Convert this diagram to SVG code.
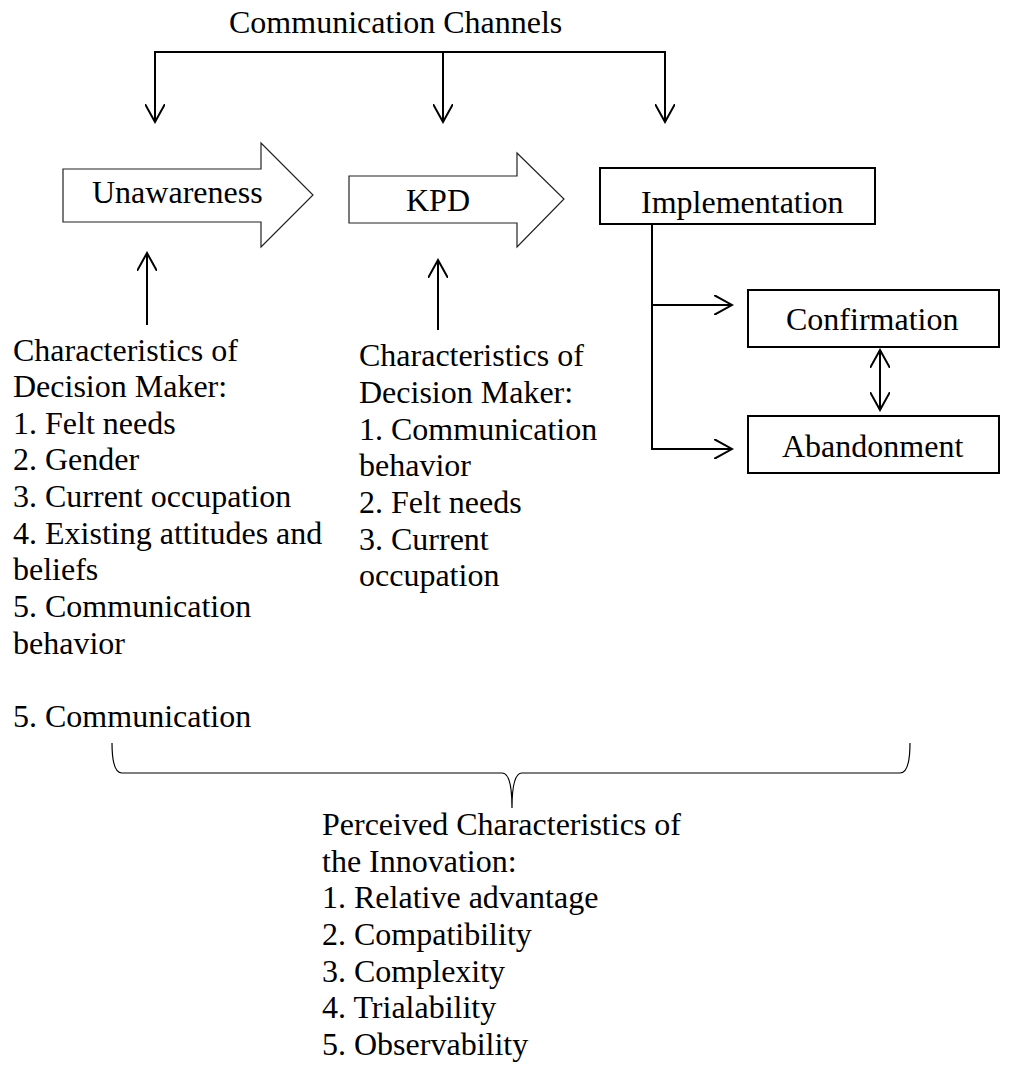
<svg xmlns="http://www.w3.org/2000/svg" width="1017" height="1065" viewBox="0 0 1017 1065">
<style>
text{font-family:"Liberation Serif","Times New Roman",serif;font-size:32px;fill:#000}
.blk{fill:#fff;stroke:#222;stroke-width:1.2}
.box{fill:#fff;stroke:#000;stroke-width:2}
.ln{fill:none;stroke:#000;stroke-width:2}
.brace{fill:none;stroke:#000;stroke-width:1.2}
</style>
<defs>
<marker id="ah" viewBox="0 0 20 20" refX="18" refY="10" markerWidth="20" markerHeight="20" markerUnits="userSpaceOnUse" orient="auto-start-reverse">
<path d="M0,0 L18,10 L0,20" fill="none" stroke="#000" stroke-width="2"/>
</marker>
</defs>
<text id="channels" x="229" y="33">Communication Channels</text>
<g id="unawareness">
<path class="blk" d="M63,169 H261 V143 L313,195 L261,247 V222 H63 Z"/>
<text x="92" y="203">Unawareness</text>
</g>
<g id="kpd">
<path class="blk" d="M349,176 H517 V153 L564,199 L517,247 V223 H349 Z"/>
<text x="406" y="211">KPD</text>
</g>
<g id="implementation">
<rect class="box" x="600" y="168" width="275" height="56"/>
<text x="641" y="213">Implementation</text>
</g>
<g id="confirmation">
<rect class="box" x="748" y="290" width="251" height="57"/>
<text x="786" y="330">Confirmation</text>
</g>
<g id="abandonment">
<rect class="box" x="748" y="416" width="251" height="57"/>
<text x="782" y="457">Abandonment</text>
</g>
<g id="dm1">
<text x="13" y="361">Characteristics of</text>
<text x="13" y="397">Decision Maker:</text>
<text x="13" y="434">1. Felt needs</text>
<text x="13" y="470">2. Gender</text>
<text x="13" y="507">3. Current occupation</text>
<text x="13" y="544">4. Existing attitudes and</text>
<text x="13" y="580">beliefs</text>
<text x="13" y="617">5. Communication</text>
<text x="13" y="654">behavior</text>
<text x="13" y="727">5. Communication</text>
</g>
<g id="dm2">
<text x="359" y="366">Characteristics of</text>
<text x="359" y="403">Decision Maker:</text>
<text x="359" y="440">1. Communication</text>
<text x="359" y="476">behavior</text>
<text x="359" y="513">2. Felt needs</text>
<text x="359" y="550">3. Current</text>
<text x="359" y="586">occupation</text>
</g>
<g id="innovation">
<text x="322" y="835">Perceived Characteristics of</text>
<text x="322" y="872">the Innovation:</text>
<text x="322" y="908">1. Relative advantage</text>
<text x="322" y="945">2. Compatibility</text>
<text x="322" y="982">3. Complexity</text>
<text x="322" y="1018">4. Trialability</text>
<text x="322" y="1055">5. Observability</text>
</g>
<g id="connectors">
<path class="ln" d="M155,52 H665"/>
<path class="ln" d="M155,51 V122" marker-end="url(#ah)"/>
<path class="ln" d="M443,52 V122" marker-end="url(#ah)"/>
<path class="ln" d="M665,51 V122" marker-end="url(#ah)"/>
<path class="ln" d="M147,325 V253" marker-end="url(#ah)"/>
<path class="ln" d="M438,330 V260" marker-end="url(#ah)"/>
<path class="ln" d="M652,225 V449 H732" marker-end="url(#ah)"/>
<path class="ln" d="M652,305 H732" marker-end="url(#ah)"/>
<path class="ln" d="M880,350 V410" marker-start="url(#ah)" marker-end="url(#ah)"/>
<path class="brace" d="M112,743 Q112,773 122,773 H502 Q512,773 512,808 Q512,773 522,773 H900 Q910,773 910,743"/>
</g>
</svg>
